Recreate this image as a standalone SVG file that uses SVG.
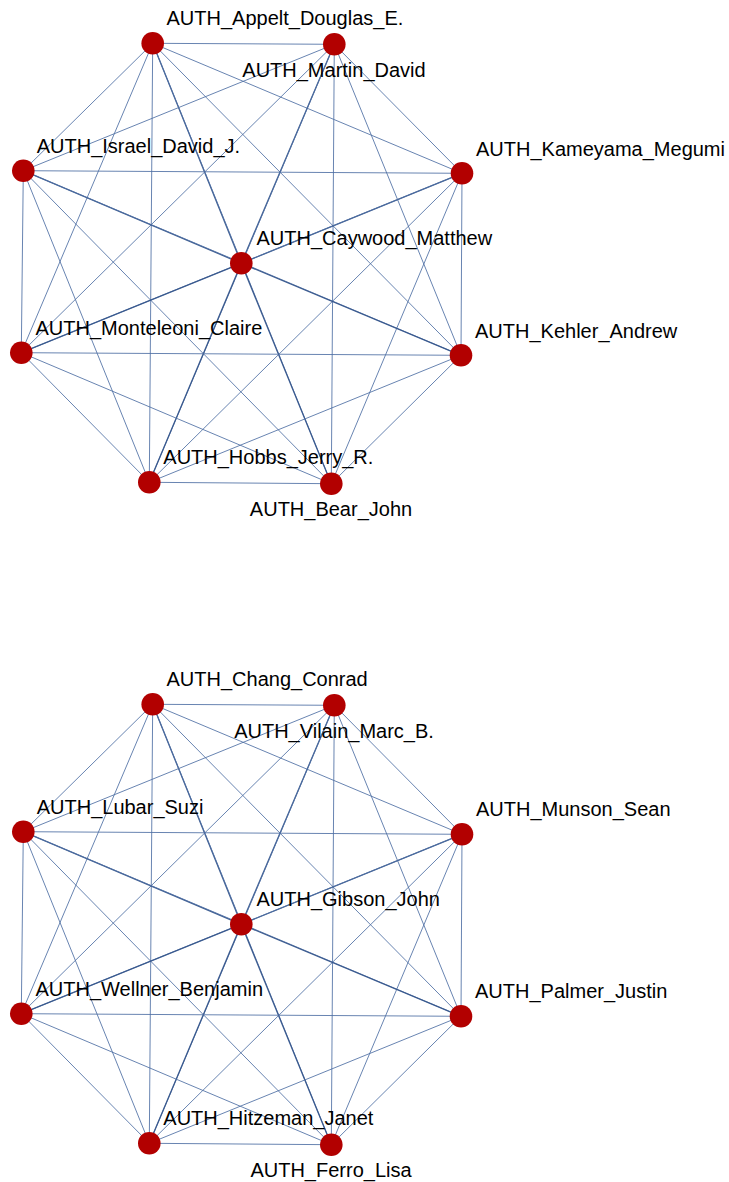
<svg xmlns="http://www.w3.org/2000/svg" width="729" height="1182" viewBox="0 0 729 1182">
  <style>
    .edge { stroke: #4d6ea3; stroke-width: 1; stroke-opacity: 0.85; fill: none; }
    .hub { stroke: #36568c; stroke-width: 1.3; stroke-opacity: 0.95; }
    .node circle { fill: #b20000; }
    .node text { font-family: "Liberation Sans", Arial, sans-serif; font-size: 20px; fill: #000; }
    .below { text-anchor: middle; }
  </style>
  <rect width="729" height="1182" fill="#ffffff"/>

  <!-- connectors: upper cluster -->
  <g id="edges-upper" class="edge">
    <line x1="152.7" y1="43.3" x2="334.3" y2="44.3"/>
    <line x1="152.7" y1="43.3" x2="23.3" y2="170.7"/>
    <line x1="152.7" y1="43.3" x2="462" y2="173.3"/>
    <line class="hub" x1="152.7" y1="43.3" x2="241.3" y2="263.3"/>
    <line x1="152.7" y1="43.3" x2="21.3" y2="352.7"/>
    <line x1="152.7" y1="43.3" x2="461" y2="355.3"/>
    <line x1="152.7" y1="43.3" x2="149.3" y2="482.3"/>
    <line x1="152.7" y1="43.3" x2="331.3" y2="483.7"/>
    <line x1="334.3" y1="44.3" x2="23.3" y2="170.7"/>
    <line x1="334.3" y1="44.3" x2="462" y2="173.3"/>
    <line class="hub" x1="334.3" y1="44.3" x2="241.3" y2="263.3"/>
    <line x1="334.3" y1="44.3" x2="21.3" y2="352.7"/>
    <line x1="334.3" y1="44.3" x2="461" y2="355.3"/>
    <line x1="334.3" y1="44.3" x2="149.3" y2="482.3"/>
    <line x1="334.3" y1="44.3" x2="331.3" y2="483.7"/>
    <line x1="23.3" y1="170.7" x2="462" y2="173.3"/>
    <line class="hub" x1="23.3" y1="170.7" x2="241.3" y2="263.3"/>
    <line x1="23.3" y1="170.7" x2="21.3" y2="352.7"/>
    <line x1="23.3" y1="170.7" x2="461" y2="355.3"/>
    <line x1="23.3" y1="170.7" x2="149.3" y2="482.3"/>
    <line x1="23.3" y1="170.7" x2="331.3" y2="483.7"/>
    <line class="hub" x1="462" y1="173.3" x2="241.3" y2="263.3"/>
    <line x1="462" y1="173.3" x2="21.3" y2="352.7"/>
    <line x1="462" y1="173.3" x2="461" y2="355.3"/>
    <line x1="462" y1="173.3" x2="149.3" y2="482.3"/>
    <line x1="462" y1="173.3" x2="331.3" y2="483.7"/>
    <line class="hub" x1="241.3" y1="263.3" x2="21.3" y2="352.7"/>
    <line class="hub" x1="241.3" y1="263.3" x2="461" y2="355.3"/>
    <line class="hub" x1="241.3" y1="263.3" x2="149.3" y2="482.3"/>
    <line class="hub" x1="241.3" y1="263.3" x2="331.3" y2="483.7"/>
    <line x1="21.3" y1="352.7" x2="461" y2="355.3"/>
    <line x1="21.3" y1="352.7" x2="149.3" y2="482.3"/>
    <line x1="21.3" y1="352.7" x2="331.3" y2="483.7"/>
    <line x1="461" y1="355.3" x2="149.3" y2="482.3"/>
    <line x1="461" y1="355.3" x2="331.3" y2="483.7"/>
    <line x1="149.3" y1="482.3" x2="331.3" y2="483.7"/>
  </g>

  <!-- connectors: lower cluster -->
  <g id="edges-lower" class="edge">
    <line x1="152.7" y1="704.3" x2="334.3" y2="705.3"/>
    <line x1="152.7" y1="704.3" x2="23.3" y2="831.7"/>
    <line x1="152.7" y1="704.3" x2="462" y2="834.3"/>
    <line class="hub" x1="152.7" y1="704.3" x2="241.3" y2="924.3"/>
    <line x1="152.7" y1="704.3" x2="21.3" y2="1013.7"/>
    <line x1="152.7" y1="704.3" x2="461" y2="1016.3"/>
    <line x1="152.7" y1="704.3" x2="149.3" y2="1143.3"/>
    <line x1="152.7" y1="704.3" x2="331.3" y2="1144.7"/>
    <line x1="334.3" y1="705.3" x2="23.3" y2="831.7"/>
    <line x1="334.3" y1="705.3" x2="462" y2="834.3"/>
    <line class="hub" x1="334.3" y1="705.3" x2="241.3" y2="924.3"/>
    <line x1="334.3" y1="705.3" x2="21.3" y2="1013.7"/>
    <line x1="334.3" y1="705.3" x2="461" y2="1016.3"/>
    <line x1="334.3" y1="705.3" x2="149.3" y2="1143.3"/>
    <line x1="334.3" y1="705.3" x2="331.3" y2="1144.7"/>
    <line x1="23.3" y1="831.7" x2="462" y2="834.3"/>
    <line class="hub" x1="23.3" y1="831.7" x2="241.3" y2="924.3"/>
    <line x1="23.3" y1="831.7" x2="21.3" y2="1013.7"/>
    <line x1="23.3" y1="831.7" x2="461" y2="1016.3"/>
    <line x1="23.3" y1="831.7" x2="149.3" y2="1143.3"/>
    <line x1="23.3" y1="831.7" x2="331.3" y2="1144.7"/>
    <line class="hub" x1="462" y1="834.3" x2="241.3" y2="924.3"/>
    <line x1="462" y1="834.3" x2="21.3" y2="1013.7"/>
    <line x1="462" y1="834.3" x2="461" y2="1016.3"/>
    <line x1="462" y1="834.3" x2="149.3" y2="1143.3"/>
    <line x1="462" y1="834.3" x2="331.3" y2="1144.7"/>
    <line class="hub" x1="241.3" y1="924.3" x2="21.3" y2="1013.7"/>
    <line class="hub" x1="241.3" y1="924.3" x2="461" y2="1016.3"/>
    <line class="hub" x1="241.3" y1="924.3" x2="149.3" y2="1143.3"/>
    <line class="hub" x1="241.3" y1="924.3" x2="331.3" y2="1144.7"/>
    <line x1="21.3" y1="1013.7" x2="461" y2="1016.3"/>
    <line x1="21.3" y1="1013.7" x2="149.3" y2="1143.3"/>
    <line x1="21.3" y1="1013.7" x2="331.3" y2="1144.7"/>
    <line x1="461" y1="1016.3" x2="149.3" y2="1143.3"/>
    <line x1="461" y1="1016.3" x2="331.3" y2="1144.7"/>
    <line x1="149.3" y1="1143.3" x2="331.3" y2="1144.7"/>
  </g>

  <!-- nodes: upper cluster -->
  <g id="node-appelt" class="node"><circle cx="152.7" cy="43.3" r="11.3"/><text x="166.5" y="25">AUTH_Appelt_Douglas_E.</text></g>
  <g id="node-martin" class="node"><circle cx="334.3" cy="44.3" r="11.3"/><text class="below" x="334" y="77">AUTH_Martin_David</text></g>
  <g id="node-israel" class="node"><circle cx="23.3" cy="170.7" r="11.3"/><text x="36.7" y="153">AUTH_Israel_David_J.</text></g>
  <g id="node-kameyama" class="node"><circle cx="462" cy="173.3" r="11.3"/><text x="476" y="156">AUTH_Kameyama_Megumi</text></g>
  <g id="node-caywood" class="node"><circle cx="241.3" cy="263.3" r="11.3"/><text x="256.5" y="245">AUTH_Caywood_Matthew</text></g>
  <g id="node-monteleoni" class="node"><circle cx="21.3" cy="352.7" r="11.3"/><text x="35.5" y="335">AUTH_Monteleoni_Claire</text></g>
  <g id="node-kehler" class="node"><circle cx="461" cy="355.3" r="11.3"/><text x="475" y="338">AUTH_Kehler_Andrew</text></g>
  <g id="node-hobbs" class="node"><circle cx="149.3" cy="482.3" r="11.3"/><text x="163.3" y="463.5">AUTH_Hobbs_Jerry_R.</text></g>
  <g id="node-bear" class="node"><circle cx="331.3" cy="483.7" r="11.3"/><text class="below" x="331" y="516">AUTH_Bear_John</text></g>

  <!-- nodes: lower cluster -->
  <g id="node-chang" class="node"><circle cx="152.7" cy="704.3" r="11.3"/><text x="166.5" y="686">AUTH_Chang_Conrad</text></g>
  <g id="node-vilain" class="node"><circle cx="334.3" cy="705.3" r="11.3"/><text class="below" x="334" y="738">AUTH_Vilain_Marc_B.</text></g>
  <g id="node-lubar" class="node"><circle cx="23.3" cy="831.7" r="11.3"/><text x="36.7" y="813.5">AUTH_Lubar_Suzi</text></g>
  <g id="node-munson" class="node"><circle cx="462" cy="834.3" r="11.3"/><text x="476" y="816">AUTH_Munson_Sean</text></g>
  <g id="node-gibson" class="node"><circle cx="241.3" cy="924.3" r="11.3"/><text x="256.5" y="906">AUTH_Gibson_John</text></g>
  <g id="node-wellner" class="node"><circle cx="21.3" cy="1013.7" r="11.3"/><text x="35.5" y="995.5">AUTH_Wellner_Benjamin</text></g>
  <g id="node-palmer" class="node"><circle cx="461" cy="1016.3" r="11.3"/><text x="475" y="998">AUTH_Palmer_Justin</text></g>
  <g id="node-hitzeman" class="node"><circle cx="149.3" cy="1143.3" r="11.3"/><text x="163.3" y="1124.5">AUTH_Hitzeman_Janet</text></g>
  <g id="node-ferro" class="node"><circle cx="331.3" cy="1144.7" r="11.3"/><text class="below" x="331" y="1177">AUTH_Ferro_Lisa</text></g>
</svg>
